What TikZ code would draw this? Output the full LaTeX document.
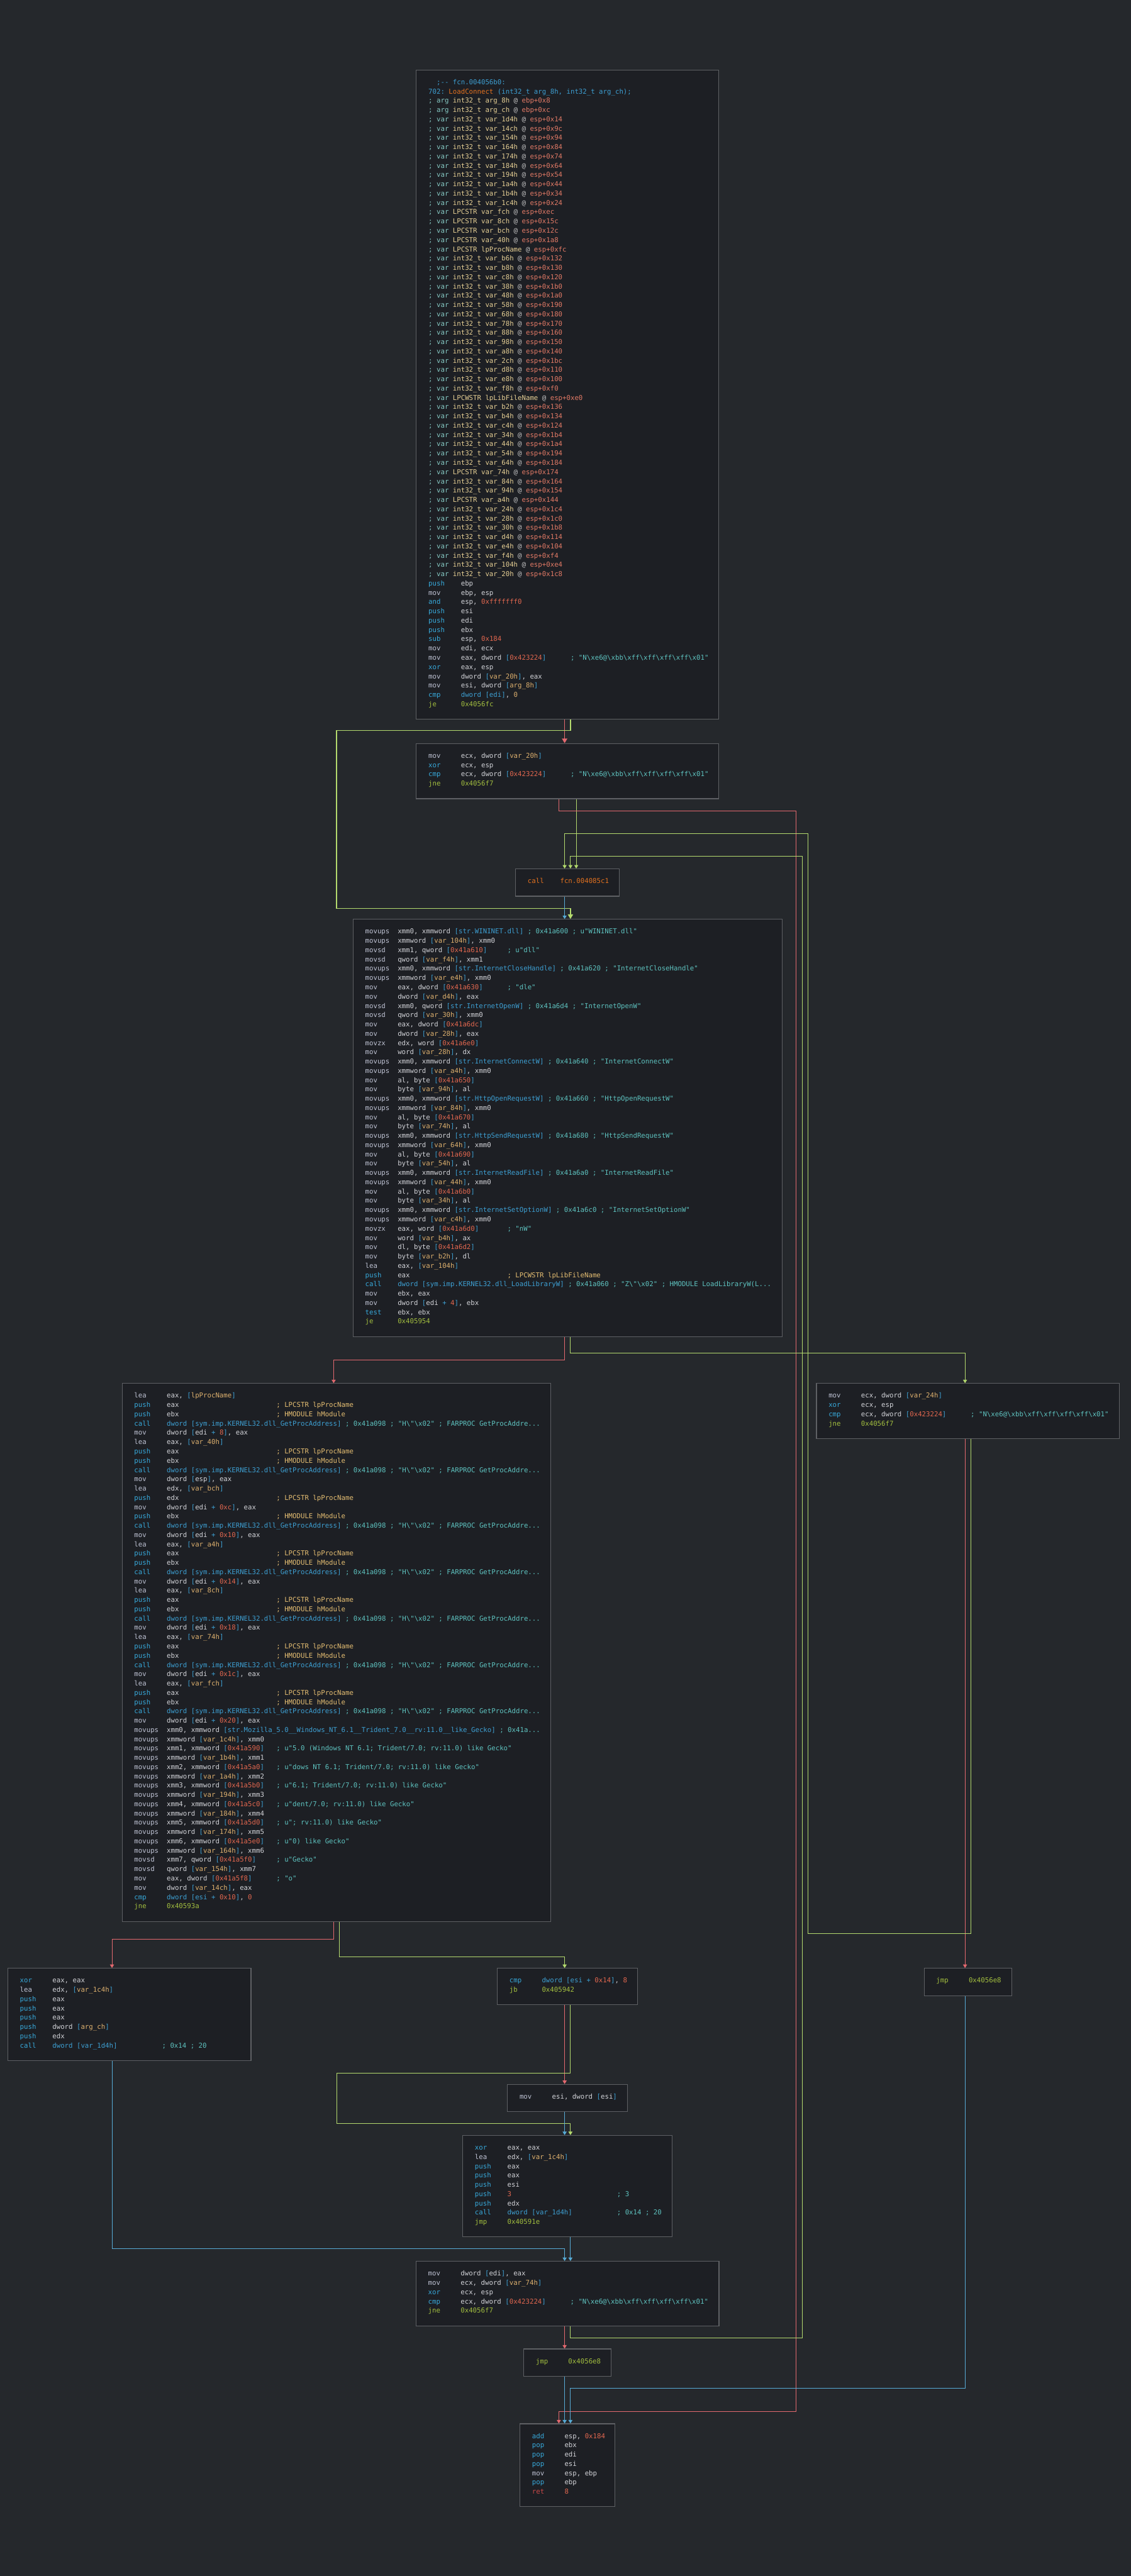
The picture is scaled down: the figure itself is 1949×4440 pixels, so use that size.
\documentclass[tikz,border=0pt]{standalone}
\usepackage{fontspec}
\usetikzlibrary{arrows.meta,calc}
\newfontfamily\codefont{DejaVu Sans Mono}
\definecolor{bgc}{HTML}{25282C}
\definecolor{boxc}{HTML}{1D1F24}
\definecolor{brd}{HTML}{5E6064}
\definecolor{tx}{HTML}{D2D3D8}
\definecolor{mg}{HTML}{BFC3D4}
\definecolor{cy}{HTML}{37A9DB}
\definecolor{jg}{HTML}{A3BF3F}
\definecolor{nr}{HTML}{E2674F}
\definecolor{bl}{HTML}{3D9FD2}
\definecolor{vo}{HTML}{DDB06E}
\definecolor{st}{HTML}{5EC3C0}
\definecolor{cmy}{HTML}{E5BE72}
\definecolor{og}{HTML}{E2711F}
\definecolor{rt}{HTML}{C94848}
\definecolor{vt}{HTML}{86C9C4}
\definecolor{vy}{HTML}{E6CF94}
\definecolor{vp}{HTML}{C8C8C8}
\definecolor{vs}{HTML}{E27A66}
\definecolor{eg}{HTML}{B4DA6E}
\definecolor{er}{HTML}{E4696F}
\definecolor{eb}{HTML}{57ABD6}
\catcode`\_=12
\newdimen\chw
\chw=3.4979pt
\newcommand\code{\codefont\fontsize{5.81pt}{8pt}\selectfont\frenchspacing}
\newcommand\cst{\vrule width0pt height5.6pt depth2.4pt\relax}
\newcommand\lin[1]{\hbox{\cst#1}}
\newcommand\defmn[2]{\expandafter\def\csname mc@#1\endcsname{\textcolor{#2}{#1}}}
\defmn{push}{cy}\defmn{pop}{cy}\defmn{call}{cy}\defmn{cmp}{cy}\defmn{test}{cy}
\defmn{xor}{cy}\defmn{and}{cy}\defmn{sub}{cy}\defmn{add}{cy}
\defmn{je}{jg}\defmn{jne}{jg}\defmn{jb}{jg}\defmn{jmp}{jg}
\newcommand\mn[1]{\ifcsname mc@#1\endcsname\csname mc@#1\endcsname\else\textcolor{mg}{#1}\fi}
\newcommand\ins[2]{\lin{\hbox to 8\chw{\mn{#1}\hss}#2}}
\newcommand\insc[3]{\lin{\hbox to 8\chw{\mn{#1}\hss}\hbox to 27\chw{#2\hss}#3}}
\newcommand\cK[1]{\textcolor{bl}{#1}}
\newcommand\cN[1]{\textcolor{nr}{#1}}
\newcommand\cV[1]{\textcolor{vo}{#1}}
\newcommand\cJ[1]{\textcolor{jg}{#1}}
\newcommand\cC[1]{\textcolor{st}{#1}}
\newcommand\cY[1]{\textcolor{cmy}{#1}}
\newcommand\Mv[1]{\cK{[}\cV{#1}\cK{]}}
\newcommand\Mn[1]{\cK{[}\cN{#1}\cK{]}}
\newcommand\Ms[1]{\cK{[#1]}}
\newcommand\Mr[1]{\cK{[}#1\cK{]}}
\newcommand\bsl{\symbol{92}}
\newcommand\CmN{\cC{; "N\bsl xe6@\bsl xbb\bsl xff\bsl xff\bsl xff\bsl xff\bsl x01"}}
\newcommand\GPA{\cK{dword [sym.imp.KERNEL32.dll_GetProcAddress]} \cC{; 0x41a098 ; "H\bsl"\bsl x02" ; FARPROC GetProcAddre...}}
\newcommand\PN{\cY{; LPCSTR lpProcName}}
\newcommand\HM{\cY{; HMODULE hModule}}
\newcommand\vln[3]{\lin{\textcolor{vt}{; #1} \textcolor{vy}{#2} \textcolor{vp}{@} \textcolor{vs}{#3}}}
% block: name, center x, width, top y, number of lines, content
\newcommand\blk[6]{%
  \node[bbox, minimum width=#3*0.5pt, minimum height=(16*#5+31)*0.5pt, anchor=north] (#1) at (#2,#4) {};
  \node[anchor=north west, inner sep=0pt, text=tx, font=\code] (#1t) at ({#2-#3/2+20.5},{#4+14}) {\vbox{\offinterlineskip #6}};
}
\tikzset{
  bbox/.style={draw=brd, fill=boxc, line width=0.6pt, inner sep=0pt},
  edge/.style={line width=0.5pt, -{Triangle[width=3.5pt,length=3pt]}},
  tedge/.style={line width=0.85pt, -{Triangle[width=4.5pt,length=4pt]}},
}
\begin{document}
\begin{tikzpicture}[x=0.5pt,y=-0.5pt]
\fill[bgc] (0,0) rectangle (1949,4440);
\useasboundingbox (0,0) rectangle (1949,4440);

\blk{B1}{978}{521}{120}{68}{%
\lin{\hbox to 2\chw{}\cK{;-- fcn.004056b0:}}
\lin{\cK{702:} \textcolor{og}{LoadConnect} \cK{(int32_t arg_8h, int32_t arg_ch);}}
\vln{arg}{int32_t arg_8h}{ebp+0x8}
\vln{arg}{int32_t arg_ch}{ebp+0xc}
\vln{var}{int32_t var_1d4h}{esp+0x14}
\vln{var}{int32_t var_14ch}{esp+0x9c}
\vln{var}{int32_t var_154h}{esp+0x94}
\vln{var}{int32_t var_164h}{esp+0x84}
\vln{var}{int32_t var_174h}{esp+0x74}
\vln{var}{int32_t var_184h}{esp+0x64}
\vln{var}{int32_t var_194h}{esp+0x54}
\vln{var}{int32_t var_1a4h}{esp+0x44}
\vln{var}{int32_t var_1b4h}{esp+0x34}
\vln{var}{int32_t var_1c4h}{esp+0x24}
\vln{var}{LPCSTR var_fch}{esp+0xec}
\vln{var}{LPCSTR var_8ch}{esp+0x15c}
\vln{var}{LPCSTR var_bch}{esp+0x12c}
\vln{var}{LPCSTR var_40h}{esp+0x1a8}
\vln{var}{LPCSTR lpProcName}{esp+0xfc}
\vln{var}{int32_t var_b6h}{esp+0x132}
\vln{var}{int32_t var_b8h}{esp+0x130}
\vln{var}{int32_t var_c8h}{esp+0x120}
\vln{var}{int32_t var_38h}{esp+0x1b0}
\vln{var}{int32_t var_48h}{esp+0x1a0}
\vln{var}{int32_t var_58h}{esp+0x190}
\vln{var}{int32_t var_68h}{esp+0x180}
\vln{var}{int32_t var_78h}{esp+0x170}
\vln{var}{int32_t var_88h}{esp+0x160}
\vln{var}{int32_t var_98h}{esp+0x150}
\vln{var}{int32_t var_a8h}{esp+0x140}
\vln{var}{int32_t var_2ch}{esp+0x1bc}
\vln{var}{int32_t var_d8h}{esp+0x110}
\vln{var}{int32_t var_e8h}{esp+0x100}
\vln{var}{int32_t var_f8h}{esp+0xf0}
\vln{var}{LPCWSTR lpLibFileName}{esp+0xe0}
\vln{var}{int32_t var_b2h}{esp+0x136}
\vln{var}{int32_t var_b4h}{esp+0x134}
\vln{var}{int32_t var_c4h}{esp+0x124}
\vln{var}{int32_t var_34h}{esp+0x1b4}
\vln{var}{int32_t var_44h}{esp+0x1a4}
\vln{var}{int32_t var_54h}{esp+0x194}
\vln{var}{int32_t var_64h}{esp+0x184}
\vln{var}{LPCSTR var_74h}{esp+0x174}
\vln{var}{int32_t var_84h}{esp+0x164}
\vln{var}{int32_t var_94h}{esp+0x154}
\vln{var}{LPCSTR var_a4h}{esp+0x144}
\vln{var}{int32_t var_24h}{esp+0x1c4}
\vln{var}{int32_t var_28h}{esp+0x1c0}
\vln{var}{int32_t var_30h}{esp+0x1b8}
\vln{var}{int32_t var_d4h}{esp+0x114}
\vln{var}{int32_t var_e4h}{esp+0x104}
\vln{var}{int32_t var_f4h}{esp+0xf4}
\vln{var}{int32_t var_104h}{esp+0xe4}
\vln{var}{int32_t var_20h}{esp+0x1c8}
\ins{push}{ebp}
\ins{mov}{ebp, esp}
\ins{and}{esp, \cN{0xfffffff0}}
\ins{push}{esi}
\ins{push}{edi}
\ins{push}{ebx}
\ins{sub}{esp, \cN{0x184}}
\ins{mov}{edi, ecx}
\insc{mov}{eax, dword \Mn{0x423224}}{\CmN}
\ins{xor}{eax, esp}
\ins{mov}{dword \Mv{var_20h}, eax}
\ins{mov}{esi, dword \Mv{arg_8h}}
\ins{cmp}{\cK{dword [edi]}, \cV{0}}
\ins{je}{\cJ{0x4056fc}}
}

\blk{B2}{978}{521}{1281}{4}{%
\ins{mov}{ecx, dword \Mv{var_20h}}
\ins{xor}{ecx, esp}
\insc{cmp}{ecx, dword \Mn{0x423224}}{\CmN}
\ins{jne}{\cJ{0x4056f7}}
}

\blk{CALL}{978}{179}{1497}{1}{%
\lin{\hbox to 8\chw{\textcolor{og}{call}\hss}\textcolor{og}{fcn.004085c1}}
}

\blk{B3}{978}{739}{1584}{43}{%
\ins{movups}{xmm0, xmmword \Ms{str.WININET.dll} \cC{; 0x41a600 ; u"WININET.dll"}}
\ins{movups}{xmmword \Mv{var_104h}, xmm0}
\insc{movsd}{xmm1, qword \Mn{0x41a610}}{\cC{; u"dll"}}
\ins{movsd}{qword \Mv{var_f4h}, xmm1}
\ins{movups}{xmm0, xmmword \Ms{str.InternetCloseHandle} \cC{; 0x41a620 ; "InternetCloseHandle"}}
\ins{movups}{xmmword \Mv{var_e4h}, xmm0}
\insc{mov}{eax, dword \Mn{0x41a630}}{\cC{; "dle"}}
\ins{mov}{dword \Mv{var_d4h}, eax}
\ins{movsd}{xmm0, qword \Ms{str.InternetOpenW} \cC{; 0x41a6d4 ; "InternetOpenW"}}
\ins{movsd}{qword \Mv{var_30h}, xmm0}
\ins{mov}{eax, dword \Mn{0x41a6dc}}
\ins{mov}{dword \Mv{var_28h}, eax}
\ins{movzx}{edx, word \Mn{0x41a6e0}}
\ins{mov}{word \Mv{var_28h}, dx}
\ins{movups}{xmm0, xmmword \Ms{str.InternetConnectW} \cC{; 0x41a640 ; "InternetConnectW"}}
\ins{movups}{xmmword \Mv{var_a4h}, xmm0}
\ins{mov}{al, byte \Mn{0x41a650}}
\ins{mov}{byte \Mv{var_94h}, al}
\ins{movups}{xmm0, xmmword \Ms{str.HttpOpenRequestW} \cC{; 0x41a660 ; "HttpOpenRequestW"}}
\ins{movups}{xmmword \Mv{var_84h}, xmm0}
\ins{mov}{al, byte \Mn{0x41a670}}
\ins{mov}{byte \Mv{var_74h}, al}
\ins{movups}{xmm0, xmmword \Ms{str.HttpSendRequestW} \cC{; 0x41a680 ; "HttpSendRequestW"}}
\ins{movups}{xmmword \Mv{var_64h}, xmm0}
\ins{mov}{al, byte \Mn{0x41a690}}
\ins{mov}{byte \Mv{var_54h}, al}
\ins{movups}{xmm0, xmmword \Ms{str.InternetReadFile} \cC{; 0x41a6a0 ; "InternetReadFile"}}
\ins{movups}{xmmword \Mv{var_44h}, xmm0}
\ins{mov}{al, byte \Mn{0x41a6b0}}
\ins{mov}{byte \Mv{var_34h}, al}
\ins{movups}{xmm0, xmmword \Ms{str.InternetSetOptionW} \cC{; 0x41a6c0 ; "InternetSetOptionW"}}
\ins{movups}{xmmword \Mv{var_c4h}, xmm0}
\insc{movzx}{eax, word \Mn{0x41a6d0}}{\cC{; "nW"}}
\ins{mov}{word \Mv{var_b4h}, ax}
\ins{mov}{dl, byte \Mn{0x41a6d2}}
\ins{mov}{byte \Mv{var_b2h}, dl}
\ins{lea}{eax, \Mv{var_104h}}
\insc{push}{eax}{\cY{; LPCWSTR lpLibFileName}}
\ins{call}{\cK{dword [sym.imp.KERNEL32.dll_LoadLibraryW]} \cC{; 0x41a060 ; "Z\bsl"\bsl x02" ; HMODULE LoadLibraryW(L...}}
\ins{mov}{ebx, eax}
\ins{mov}{dword \Mr{edi \cK{+} \cN{4}}, ebx}
\ins{test}{ebx, ebx}
\ins{je}{\cJ{0x405954}}
}

\blk{B4}{580}{739}{2384}{56}{%
\ins{lea}{eax, \Mv{lpProcName}}
\insc{push}{eax}{\PN}
\insc{push}{ebx}{\HM}
\ins{call}{\GPA}
\ins{mov}{dword \Mr{edi \cK{+} \cN{8}}, eax}
\ins{lea}{eax, \Mv{var_40h}}
\insc{push}{eax}{\PN}
\insc{push}{ebx}{\HM}
\ins{call}{\GPA}
\ins{mov}{dword \Mr{esp}, eax}
\ins{lea}{edx, \Mv{var_bch}}
\insc{push}{edx}{\PN}
\ins{mov}{dword \Mr{edi \cK{+} \cN{0xc}}, eax}
\insc{push}{ebx}{\HM}
\ins{call}{\GPA}
\ins{mov}{dword \Mr{edi \cK{+} \cN{0x10}}, eax}
\ins{lea}{eax, \Mv{var_a4h}}
\insc{push}{eax}{\PN}
\insc{push}{ebx}{\HM}
\ins{call}{\GPA}
\ins{mov}{dword \Mr{edi \cK{+} \cN{0x14}}, eax}
\ins{lea}{eax, \Mv{var_8ch}}
\insc{push}{eax}{\PN}
\insc{push}{ebx}{\HM}
\ins{call}{\GPA}
\ins{mov}{dword \Mr{edi \cK{+} \cN{0x18}}, eax}
\ins{lea}{eax, \Mv{var_74h}}
\insc{push}{eax}{\PN}
\insc{push}{ebx}{\HM}
\ins{call}{\GPA}
\ins{mov}{dword \Mr{edi \cK{+} \cN{0x1c}}, eax}
\ins{lea}{eax, \Mv{var_fch}}
\insc{push}{eax}{\PN}
\insc{push}{ebx}{\HM}
\ins{call}{\GPA}
\ins{mov}{dword \Mr{edi \cK{+} \cN{0x20}}, eax}
\ins{movups}{xmm0, xmmword \Ms{str.Mozilla_5.0__Windows_NT_6.1__Trident_7.0__rv:11.0__like_Gecko} \cC{; 0x41a...}}
\ins{movups}{xmmword \Mv{var_1c4h}, xmm0}
\insc{movups}{xmm1, xmmword \Mn{0x41a590}}{\cC{; u"5.0 (Windows NT 6.1; Trident/7.0; rv:11.0) like Gecko"}}
\ins{movups}{xmmword \Mv{var_1b4h}, xmm1}
\insc{movups}{xmm2, xmmword \Mn{0x41a5a0}}{\cC{; u"dows NT 6.1; Trident/7.0; rv:11.0) like Gecko"}}
\ins{movups}{xmmword \Mv{var_1a4h}, xmm2}
\insc{movups}{xmm3, xmmword \Mn{0x41a5b0}}{\cC{; u"6.1; Trident/7.0; rv:11.0) like Gecko"}}
\ins{movups}{xmmword \Mv{var_194h}, xmm3}
\insc{movups}{xmm4, xmmword \Mn{0x41a5c0}}{\cC{; u"dent/7.0; rv:11.0) like Gecko"}}
\ins{movups}{xmmword \Mv{var_184h}, xmm4}
\insc{movups}{xmm5, xmmword \Mn{0x41a5d0}}{\cC{; u"; rv:11.0) like Gecko"}}
\ins{movups}{xmmword \Mv{var_174h}, xmm5}
\insc{movups}{xmm6, xmmword \Mn{0x41a5e0}}{\cC{; u"0) like Gecko"}}
\ins{movups}{xmmword \Mv{var_164h}, xmm6}
\insc{movsd}{xmm7, qword \Mn{0x41a5f0}}{\cC{; u"Gecko"}}
\ins{movsd}{qword \Mv{var_154h}, xmm7}
\insc{mov}{eax, dword \Mn{0x41a5f8}}{\cC{; "o"}}
\ins{mov}{dword \Mv{var_14ch}, eax}
\ins{cmp}{\cK{dword [esi +} \cN{0x10}\cK{]}, \cN{0}}
\ins{jne}{\cJ{0x40593a}}
}

\blk{BR}{1668}{522}{2384}{4}{%
\ins{mov}{ecx, dword \Mv{var_24h}}
\ins{xor}{ecx, esp}
\insc{cmp}{ecx, dword \Mn{0x423224}}{\CmN}
\ins{jne}{\cJ{0x4056f7}}
}

\blk{BL}{223}{419}{3392}{8}{%
\ins{xor}{eax, eax}
\ins{lea}{edx, \Mv{var_1c4h}}
\ins{push}{eax}
\ins{push}{eax}
\ins{push}{eax}
\ins{push}{dword \Mv{arg_ch}}
\ins{push}{edx}
\insc{call}{\cK{dword [var_1d4h]}}{\cC{; 0x14 ; 20}}
}

\blk{CMP}{978}{242}{3392}{2}{%
\ins{cmp}{\cK{dword [esi +} \cN{0x14}\cK{]}, \cN{8}}
\ins{jb}{\cJ{0x405942}}
}

\blk{JR}{1668}{151}{3392}{1}{%
\ins{jmp}{\cJ{0x4056e8}}
}

\blk{MOVESI}{978}{207}{3592}{1}{%
\ins{mov}{esi, dword \Mr{esi}}
}

\blk{XOR}{978}{361}{3680}{9}{%
\ins{xor}{eax, eax}
\ins{lea}{edx, \Mv{var_1c4h}}
\ins{push}{eax}
\ins{push}{eax}
\ins{push}{esi}
\insc{push}{\cN{3}}{\cC{; 3}}
\ins{push}{edx}
\insc{call}{\cK{dword [var_1d4h]}}{\cC{; 0x14 ; 20}}
\ins{jmp}{\cJ{0x40591e}}
}

\blk{BMID}{978}{522}{3897}{5}{%
\ins{mov}{dword \Mr{edi}, eax}
\ins{mov}{ecx, dword \Mv{var_74h}}
\ins{xor}{ecx, esp}
\insc{cmp}{ecx, dword \Mn{0x423224}}{\CmN}
\ins{jne}{\cJ{0x4056f7}}
}

\blk{JMP}{978}{151}{4048}{1}{%
\ins{jmp}{\cJ{0x4056e8}}
}

\blk{EXIT}{978}{164}{4177}{7}{%
\ins{add}{esp, \cN{0x184}}
\ins{pop}{ebx}
\ins{pop}{edi}
\ins{pop}{esi}
\ins{mov}{esp, ebp}
\ins{pop}{ebp}
\lin{\hbox to 8\chw{\textcolor{rt}{ret}\hss}\cN{8}}
}

% connectors
\draw[tedge,draw=er] ($(B1.south)+(-5,0)$) -- ($(B2.north)+(-5,0)$);
\draw[tedge,draw=eg] ($(B1.south)+(5,0)$) -- ++(0,19) -| (580,1566) -| ($(B3.north)+(5,0)$);
\draw[edge,draw=eg] ($(B2.south)+(15,0)$) -- ($(CALL.north)+(15,0)$);
\draw[edge,draw=er] ($(B2.south)+(-15,0)$) -- ++(0,20) -| (1372,4156) -| ($(EXIT.north)+(-15,0)$);
\draw[edge,draw=eb] ($(CALL.south)+(-5,0)$) -- ($(B3.north)+(-5,0)$);
\draw[edge,draw=er] ($(B3.south)+(-5,0)$) -- ++(0,40) -| ($(B4.north)+(-5,0)$);
\draw[edge,draw=eg] ($(B3.south)+(5,0)$) -- ++(0,28) -| ($(BR.north)+(-5,0)$);
\draw[edge,draw=er] ($(BR.south)+(-5,0)$) -- ($(JR.north)+(-5,0)$);
\draw[edge,draw=eg] ($(BR.south)+(5,0)$) -- ++(0,852) -| (1392,1437) -| ($(CALL.north)+(-5,0)$);
\draw[edge,draw=er] ($(B4.south)+(-5,0)$) -- ++(0,30) -| ($(BL.north)+(-30,0)$);
\draw[edge,draw=eg] ($(B4.south)+(5,0)$) -- ++(0,61) -| ($(CMP.north)+(-5,0)$);
\draw[edge,draw=er] ($(CMP.south)+(-5,0)$) -- ($(MOVESI.north)+(-5,0)$);
\draw[edge,draw=eg] ($(CMP.south)+(5,0)$) -- ++(0,117) -| (580,3660) -| ($(XOR.north)+(5,0)$);
\draw[edge,draw=eb] ($(MOVESI.south)+(-5,0)$) -- ($(XOR.north)+(-5,0)$);
\draw[edge,draw=eb] ($(XOR.south)+(5,0)$) -- ($(BMID.north)+(5,0)$);
\draw[edge,draw=eb] ($(BL.south)+(-30,0)$) |- (600,3876) -| ($(BMID.north)+(-5,0)$);
\draw[edge,draw=er] ($(BMID.south)+(-5,0)$) -- ($(JMP.north)+(-5,0)$);
\draw[edge,draw=eg] ($(BMID.south)+(5,0)$) -- ++(0,20) -| (1383,1476) -| ($(CALL.north)+(5,0)$);
\draw[edge,draw=eb] ($(JMP.south)+(-5,0)$) -- ($(EXIT.north)+(-5,0)$);
\draw[edge,draw=eb] ($(JR.south)+(-5,0)$) |- (1200,4116) -| ($(EXIT.north)+(5,0)$);
\end{tikzpicture}
\end{document}
